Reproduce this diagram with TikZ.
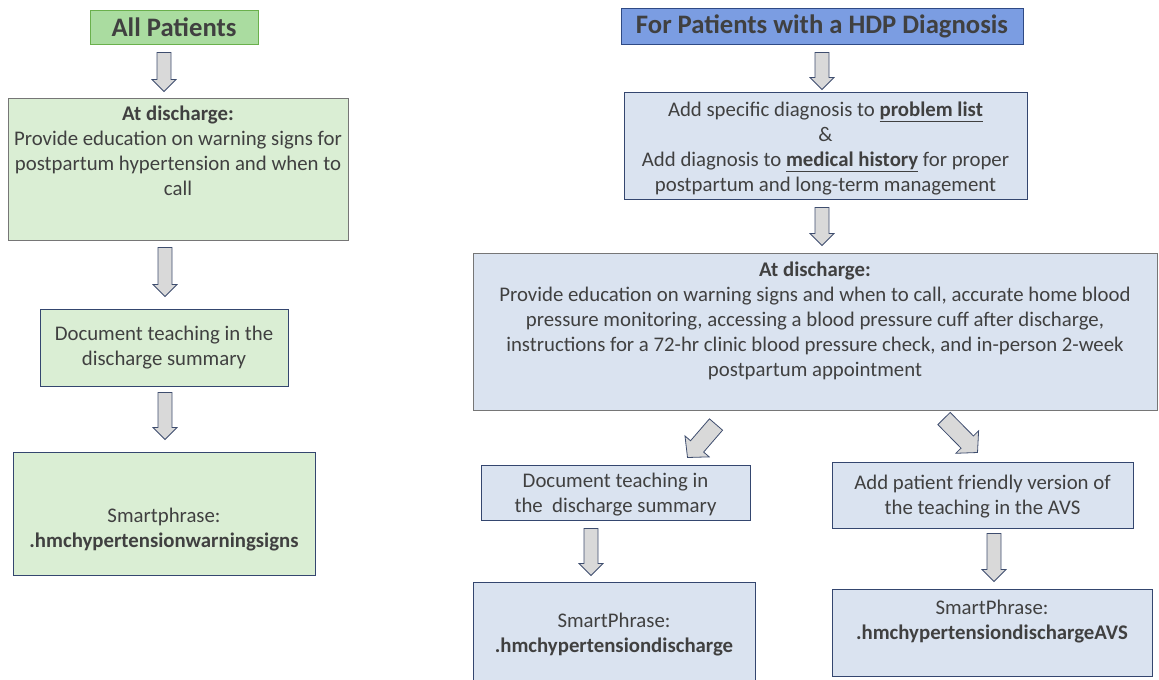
\documentclass[tikz,border=0pt]{standalone}
\usepackage{fontspec}
\setmainfont{Carlito}
\usepackage{xcolor}
\usetikzlibrary{positioning,calc}
\definecolor{txtgray}{HTML}{404040}
\definecolor{gtitlefill}{HTML}{AADCA0}
\definecolor{gtitledraw}{HTML}{6AB04C}
\definecolor{gboxfill}{HTML}{DAEED4}
\definecolor{btitlefill}{HTML}{7B9DE2}
\definecolor{btitledraw}{HTML}{2F4A85}
\definecolor{bboxfill}{HTML}{DAE3F0}
\definecolor{bboxdraw}{HTML}{34466F}
\definecolor{boxgray}{HTML}{767676}
\definecolor{arrfill}{HTML}{D9D9D9}
\definecolor{arrdraw}{HTML}{3E4D6E}
\newcommand{\shafthw}{5.25pt}
\newcommand{\headhw}{9pt}
\newcommand{\headlen}{9pt}
% hollow block arrow from tail #1 to tip #2
\newcommand{\blockarrow}[2]{%
  \coordinate (ba-t) at (#1);
  \coordinate (ba-e) at (#2);
  \coordinate (ba-h) at ($(ba-e)!\headlen!(ba-t)$);
  \draw[blockarr] ($(ba-t)!\shafthw!90:(ba-e)$) -- ($(ba-h)!\shafthw!-90:(ba-t)$)
    -- ($(ba-h)!\headhw!-90:(ba-t)$) -- (ba-e)
    -- ($(ba-h)!\headhw!90:(ba-t)$) -- ($(ba-h)!\shafthw!90:(ba-t)$)
    -- ($(ba-t)!\shafthw!-90:(ba-e)$) -- cycle;}

\begin{document}
\begin{tikzpicture}[x=0.75pt, y=-0.75pt,
  txt/.style={inner sep=0pt, align=center, text=txtgray,
    font=\fontsize{15.6}{18.75}\selectfont},
  title/.style={inner sep=0pt, align=center, text=txtgray, line width=0.75pt,
    font=\fontsize{20}{24}\selectfont\bfseries},
  gtitle/.style={title, draw=gtitledraw, fill=gtitlefill},
  btitle/.style={title, draw=btitledraw, fill=btitlefill},
  gbox/.style={txt, draw=bboxdraw, fill=gboxfill, line width=0.75pt},
  bbox/.style={txt, draw=bboxdraw, fill=bboxfill, line width=0.75pt},
  blockarr/.style={draw=arrdraw, fill=arrfill, line width=0.6pt, line join=miter},
]
  \useasboundingbox (0,0) rectangle (1159,679);

  % left column: all patients
  \node[gtitle, minimum width=126pt, minimum height=25.5pt] (allp) at (174,27)
    {All Patients};
  \node[gbox, draw=boxgray, minimum width=255pt, minimum height=106.5pt] (l1)
    at (178,169) {};
  \node[txt] (l1t) at (178,151)
    {\textbf{At discharge:}\\Provide education on warning signs for\\
     postpartum hypertension and when to\\call};
  \node[gbox, minimum width=186pt, minimum height=57.75pt, text depth=2.5pt]
    (l2) at (164,347.5) {Document teaching in the\\discharge summary};
  \node[gbox, minimum width=226.5pt, minimum height=92.25pt] (l3) at (164,513.5) {};
  \node[txt] (l3t) at (164,530)
    {Smartphrase:\\\textbf{.hmchypertensionwarningsigns}};

  % right column: HDP diagnosis
  \node[btitle, minimum width=301.5pt, minimum height=27pt] (hdp) at (822,26)
    {For Patients with a HDP Diagnosis};
  \node[bbox, minimum width=302.25pt, minimum height=80.25pt] (r1) at (825.5,145.5) {};
  \node[txt] (r1t) at (825.5,148)
    {Add specific diagnosis to \textbf{\underline{problem list}}\\\&\\
     Add diagnosis to \textbf{\underline{medical history}} for proper\\
     postpartum and long-term management};
  \node[bbox, draw=boxgray, minimum width=513pt, minimum height=117.75pt] (r2)
    at (815,331.5) {};
  \node[txt] (r2t) at (815,321)
    {\textbf{At discharge:}\\
     Provide education on warning signs and when to call, accurate home blood\\
     pressure monitoring, accessing a blood pressure cuff after discharge,\\
     instructions for a 72-hr clinic blood pressure check, and in-person 2-week\\
     postpartum appointment};
  \node[bbox, minimum width=201.75pt, minimum height=41.25pt] (r3) at (615.5,492.5) {};
  \node[txt] (r3t) at (615.5,495)
    {Document teaching in\\the\ \ discharge summary};
  \node[bbox, minimum width=225.75pt, minimum height=49.5pt] (r4) at (982.5,495) {};
  \node[txt] (r4t) at (982.5,497)
    {Add patient friendly version of\\the teaching in the AVS};
  \node[bbox, minimum width=211.5pt, minimum height=88.5pt] (r5) at (614,641) {};
  \node[txt] (r5t) at (614,634.5)
    {SmartPhrase:\\\textbf{.hmchypertensiondischarge}};
  \node[bbox, minimum width=240pt, minimum height=65.25pt] (r6) at (992,632.5) {};
  \node[txt] (r6t) at (992,621.5)
    {SmartPhrase:\\\textbf{.hmchypertensiondischargeAVS}};

  % block arrows
  \blockarrow{$(allp.south)+(-10,8)$}{$(l1.north)+(-14,-6)$}
  \blockarrow{$(l2.north |- l1.south)+(1,7)$}{$(l2.north)+(1,-12)$}
  \blockarrow{$(l3.north |- l2.south)+(1,6)$}{$(l3.north)+(1,-12)$}
  \blockarrow{$(hdp.south)+(0,8)$}{$(hdp.south |- r1.north)+(0,-2)$}
  \blockarrow{$(hdp.south |- r1.south)+(0,8)$}{$(hdp.south |- r2.north)+(0,-7)$}
  \blockarrow{$(r5.north |- r3.south)+(-23,8)$}{$(r5.north)+(-23,-6)$}
  \blockarrow{$(r6.north |- r4.south)+(2,5)$}{$(r6.north)+(2,-7)$}
  \renewcommand{\shafthw}{6.5pt}
  \renewcommand{\headhw}{12pt}
  \renewcommand{\headlen}{11pt}
  \blockarrow{$(r2.south)+(-99,14)$}{$(r3.north)+(72,-7)$}
  \blockarrow{$(r2.south)+(129,8)$}{$(r4.north)+(-5,-9)$}
\end{tikzpicture}
\end{document}
